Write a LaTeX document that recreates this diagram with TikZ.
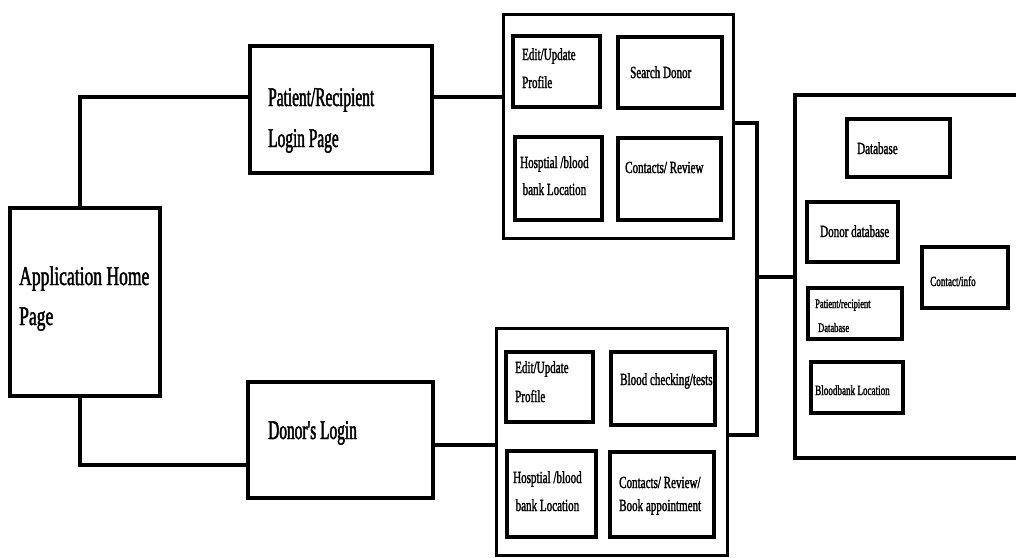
\documentclass[tikz,border=0pt]{standalone}
\usepackage{fontspec}
\setmainfont{Liberation Serif}
\newfontfamily\fbig{Liberation Serif}[FakeStretch=0.57,FakeBold=1.6]
\newfontfamily\fmid{Liberation Serif}[FakeStretch=0.65,FakeBold=1.6]
\usetikzlibrary{fit}
\newcommand\stackL[1]{\begin{tabular}[t]{@{}l@{}}#1\end{tabular}}
\newcommand\stackC[1]{\begin{tabular}[t]{@{}c@{}}#1\end{tabular}}
\tikzset{
  box/.style={draw, line width=4pt, inner sep=0pt},
  grp/.style={draw, line width=3pt, inner sep=0pt},
  conn/.style={line width=4pt},
  lbl/.style={inner sep=0pt, anchor=base west},
  fbg/.style={font=\fbig\fontsize{27}{41}\selectfont},
  fhome/.style={font=\fmid\fontsize{27}{40}\selectfont},
  fmd/.style={font=\fmid\fontsize{17}{#1}\selectfont},
  fmd/.default=28,
  fsm/.style={font=\fmid\fontsize{14}{24}\selectfont},
  fxs/.style={font=\fmid\fontsize{13}{24}\selectfont},
}
\begin{document}
\begin{tikzpicture}[x=1pt,y=-1pt]
\useasboundingbox (0,0) rectangle (1016,557);
\clip (0,0) rectangle (1016,557);
\fill[white] (0,0) rectangle (1016,557);

% main boxes
\node[box, fit={(10,208)(160,396)}] (home) {};
\node[box, fit={(250,46)(432,173)}] (pat) {};
\node[box, fit={(248,382)(433,498)}] (don) {};

% top group
\node[grp, fit={(503,14)(733,238)}] (g1) {};
\node[box, fit={(513,36)(600,107)}] (g1a) {};
\node[box, fit={(618,37)(722,108)}] (g1b) {};
\node[box, fit={(515,137)(602,220)}] (g1c) {};
\node[box, fit={(618,138)(721,220)}] (g1d) {};

% bottom group
\node[grp, fit={(496,328)(727,555)}] (g2) {};
\node[box, fit={(506,352)(593,422)}] (g2a) {};
\node[box, fit={(611,352)(715,425)}] (g2b) {};
\node[box, fit={(507,451)(596,537)}] (g2c) {};
\node[box, fit={(610,452)(714,537)}] (g2d) {};

% database panel (open on the right)
\coordinate (dbtl) at (795,95);
\coordinate (dbbl) at (795,458);
\coordinate (dbedge) at (1030,0);
\draw[line width=3.5pt] (dbtl -| dbedge) -- (dbtl) -- (dbbl) -- (dbbl -| dbedge);
\node[box, fit={(847,119)(950,177)}] (dbh) {};
\node[box, fit={(807,202)(898,262)}] (dbd) {};
\node[box, fit={(922,247)(1008,308)}] (dbc) {};
\node[box, fit={(808,288)(902,339)}] (dbp) {};
\node[box, fit={(811,362)(903,413)}] (dbl) {};

% connectors
\coordinate (c1) at (80,97);
\coordinate (c2) at (80,465);
\coordinate (c3) at (0,445);
\coordinate (b1) at (757,123);
\coordinate (b2) at (757,435);
\coordinate (b3) at (757,277);
\draw[conn] (home.north -| c1) -- (c1) -- (c1 -| pat.west);
\draw[conn] (home.south -| c2) -- (c2) -- (c2 -| don.west);
\draw[conn] (pat.east |- c1) -- (g1.west |- c1);
\draw[conn] (don.east |- c3) -- (g2.west |- c3);
\draw[conn] (g1.east |- b1) -- (b1) -- (b2) -- (g2.east |- b2);
\draw[conn] (b3) -- (b3 -| dbtl);

% labels
\node[lbl, fhome] (thome) at (19,285) {\stackL{Application Home\\Page}};
\node[lbl, fbg] (tpat) at (268,106) {\stackL{Patient/Recipient\\Login Page}};
\node[lbl, fbg] (tdon) at (268,439) {Donor's Login};

\node[lbl, fmd] (tg1a) at (522,60) {\stackL{Edit/Update\\Profile}};
\node[lbl, fmd] (tg1b) at (630,78) {Search Donor};
\node[lbl, fmd=27] (tg1c) at (520,168) {\stackC{Hosptial /blood\\bank Location}};
\node[lbl, fmd] (tg1d) at (625,173) {Contacts/ Review};

\node[lbl, fmd=29] (tg2a) at (515,373) {\stackL{Edit/Update\\Profile}};
\node[lbl, fmd] (tg2b) at (620,385) {Blood checking/tests};
\node[lbl, fmd=28] (tg2c) at (513,483) {\stackC{Hosptial /blood\\bank Location}};
\node[lbl, fmd=23] (tg2d) at (619,488) {\stackL{Contacts/ Review/\\Book appointment}};

\node[lbl, fmd] (tdbh) at (857,154) {Database};
\node[lbl, fmd] (tdbd) at (820,237) {Donor database};
\node[lbl, fsm] (tdbc) at (930,286) {Contact/info};
\node[lbl, fxs] (tdbp) at (815,308) {\stackL{Patient/recipient\\\hspace{3pt}Database}};
\node[lbl, fsm] (tdbl) at (815,395) {Bloodbank Location};
\end{tikzpicture}
\end{document}
